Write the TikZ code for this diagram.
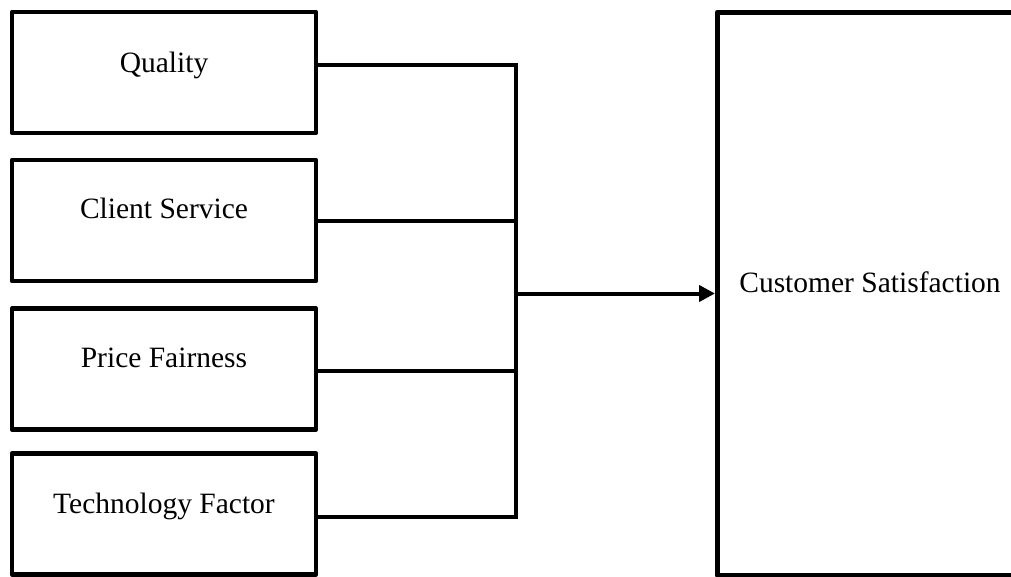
\documentclass[tikz,border=0pt]{standalone}
\usepackage{fontspec}
\setmainfont{Liberation Serif}
\usetikzlibrary{arrows.meta}
\begin{document}
\begin{tikzpicture}[x=1pt,y=-1pt,
  factorbox/.style={draw,line width=4.5pt,line join=round,rectangle,
    minimum width=304pt,minimum height=121pt,inner sep=0pt},
  label/.style={anchor=base,inner sep=0pt,font=\fontsize{29.5}{35}\selectfont},
  conn/.style={line width=3.6pt},
  flow/.style={line width=4pt,-{Triangle[length=16pt,width=16pt]}}]
\useasboundingbox (0,0) rectangle (1011,576);
\fill[white] (0,0) rectangle (1011,576);

% factor boxes
\node[factorbox] (q) at (164,72.5) {};
\node[factorbox] (c) at (164,220.5) {};
\node[factorbox] (p) at (164,369) {};
\node[factorbox] (t) at (164,514) {};

% outcome box
\node[draw,line width=5pt,line join=round,rectangle,inner sep=0pt,
  minimum width=302.5pt,minimum height=563pt] (s) at (868.75,293.5) {};

% texts
\node[label] (ql) at (164,72) {Quality};
\node[label] (cl) at (164,218) {Client Service};
\node[label] (pl) at (164,367) {Price Fairness};
\node[label] (tl) at (164,513) {Technology Factor};
\node[label] (sl) at (870,292) {Customer Satisfaction};

% connectors
\coordinate (j) at (516,293.5);
\draw[conn] ([yshift=7.5pt]q.east) -| (j);
\draw[conn] ([yshift=-3pt]t.east) -| (j);
\draw[conn] ([yshift=-0.5pt]c.east) -- ([yshift=-0.5pt]c.east -| j);
\draw[conn] ([yshift=-2pt]p.east) -- ([yshift=-2pt]p.east -| j);
\draw[flow] (j) -- (s.west);
\end{tikzpicture}
\end{document}
